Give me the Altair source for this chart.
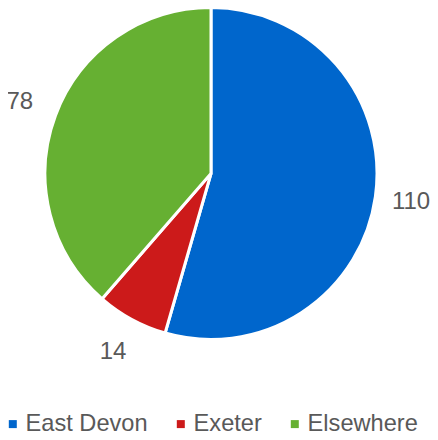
import altair as alt
import pandas as pd

categories = ["East Devon", "Exeter", "Elsewhere"]
values = [110, 14, 78]
colors = ["#0066CC", "#CC1A1A", "#66B032"]

df = pd.DataFrame({"cat": categories, "val": values, "idx": list(range(len(categories)))})

base = alt.Chart(df).encode(
    theta=alt.Theta("val:Q", stack=True),
    order=alt.Order("idx:Q"),
)

pie = base.mark_arc(radius=166, stroke="white", strokeWidth=3, x=203, y=165.5).encode(
    color=alt.Color(
        "cat:N",
        scale=alt.Scale(domain=categories, range=colors),
        legend=alt.Legend(
            title=None,
            orient="none",
            direction="horizontal",
            legendX=-7,
            legendY=404,
            symbolType="square",
            symbolSize=64,
            symbolStrokeWidth=0,
            labelFont="Liberation Sans",
            labelFontSize=23.6,
            labelColor="#595959",
            labelOffset=1,
            columnPadding=21,
            padding=0,
        ),
    )
)

labels = base.mark_text(
    radius=203, font="Liberation Sans", fontSize=24, color="#595959",
    align="center", baseline="middle", x=202, y=165.5
).encode(text=alt.Text("val:Q"))

chart = (pie + labels).properties(
    width=422, height=424, padding=0, autosize=alt.AutoSizeParams(type="none")
).configure_view(stroke=None)

chart.save("out.html", embed_options={"renderer": "svg", "actions": False})
